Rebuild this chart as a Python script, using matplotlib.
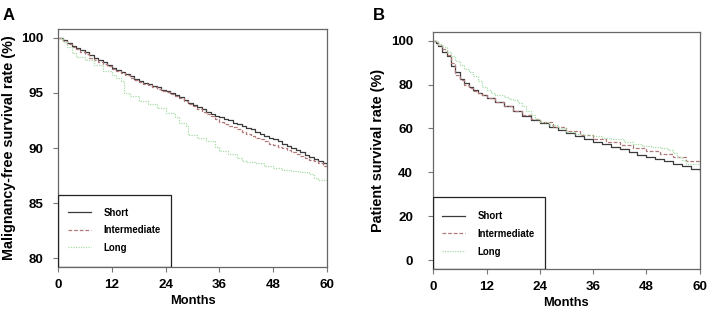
import matplotlib
matplotlib.use("Agg")
import matplotlib.pyplot as plt
from matplotlib.patches import Rectangle

plt.rcParams['font.family'] = ['Liberation Sans', 'DejaVu Sans']
plt.rcParams['font.weight'] = 'bold'

groups = ['Short', 'Intermediate', 'Long']

# panel A: malignancy-free survival (%), monthly reading of the step curves
a_months = list(range(0, 61))
a_short_s = [100, 99.8, 99.5, 99.3, 99.1, 98.9, 98.7, 98.4, 98.2, 98.0, 97.8, 97.5, 97.3,
             97.1, 96.9, 96.7, 96.5, 96.3, 96.1, 95.9, 95.8, 95.6, 95.5, 95.3, 95.2,
             95.0, 94.8, 94.6, 94.4, 94.1, 93.9, 93.7, 93.5, 93.3, 93.1, 92.9, 92.8,
             92.6, 92.5, 92.3, 92.2, 92.0, 91.8, 91.7, 91.5, 91.3, 91.1, 90.9, 90.8,
             90.6, 90.4, 90.2, 90.0, 89.8, 89.6, 89.4, 89.2, 89.0, 88.8, 88.6, 88.4]
a_inter_s = [100, 99.7, 99.4, 99.2, 99.0, 98.7, 98.5, 98.2, 98.0, 97.8, 97.6, 97.4, 97.2,
             97.0, 96.8, 96.6, 96.4, 96.2, 96.0, 95.8, 95.7, 95.5, 95.4, 95.2, 95.1,
             94.9, 94.7, 94.5, 94.3, 94.0, 93.8, 93.5, 93.3, 93.1, 92.9, 92.6, 92.4,
             92.2, 92.0, 91.9, 91.7, 91.5, 91.3, 91.1, 90.9, 90.8, 90.6, 90.4, 90.3,
             90.1, 90.0, 89.8, 89.6, 89.5, 89.3, 89.1, 88.9, 88.8, 88.6, 88.4, 88.2]
a_long_t = [0, 1, 2, 3, 4, 6, 8, 10, 12, 13, 14, 14.8, 16, 18, 20, 22, 24, 26, 27, 28.5,
            29, 31, 33, 35, 36, 38, 40, 41, 42, 44, 46, 48, 50, 52, 54, 56, 57, 58, 60]
a_long_s = [100, 99.6, 99.2, 98.6, 98.3, 98.0, 97.5, 97.0, 96.6, 96.4, 96.1, 95.0, 94.7,
            94.3, 94.0, 93.6, 93.2, 92.8, 92.3, 92.0, 91.2, 90.9, 90.6, 90.1, 89.7, 89.5,
            89.1, 88.8, 88.7, 88.6, 88.4, 88.2, 88.0, 87.9, 87.8, 87.6, 87.3, 87.1, 87.0]

# panel B: patient survival (%)
b_short_t = [0, 0.5, 1, 2, 3, 4, 5, 6, 7, 8, 9, 10, 11, 12, 14, 16, 18, 20, 22, 24, 26,
             28, 30, 32, 34, 36, 38, 40, 42, 44, 46, 48, 50, 52, 54, 56, 58, 60]
b_short_s = [100, 99, 97.5, 95, 93, 88.5, 85.5, 82.5, 80.5, 79, 77.5, 76, 75, 74, 72, 70,
             67.8, 65.8, 64, 62.3, 60.8, 59.3, 58, 56.7, 55.3, 54, 52.8, 51.6, 50.5, 49.3,
             48.1, 47, 46, 45, 43.8, 42.8, 41.6, 40.5]
b_inter_t = [0, 1, 2, 3, 4, 5, 6, 7, 8, 9, 10, 11, 12, 14, 16, 18, 20, 22, 24, 27, 30,
             33, 36, 39, 42, 45, 48, 51, 54, 57, 60]
b_inter_s = [100, 98, 96, 93.5, 90, 84.5, 82, 80, 78.5, 77, 76, 75, 74, 72, 70, 68, 66,
             64.5, 63, 60.8, 58.7, 57, 55.3, 53.8, 52.5, 51, 49.5, 48.2, 46.8, 45.2, 44]
b_long_t = [0, 1, 2, 3, 4, 5, 6, 7, 8, 9, 10, 11, 12, 13, 14, 16, 17, 18, 19, 20, 21, 22,
            23, 24, 26, 28, 30, 32, 34, 36, 38, 40, 43, 45, 47, 49, 51, 53, 54, 55, 56,
            57, 60]
b_long_s = [100, 98.5, 97, 95, 93, 90.5, 89, 87, 85.5, 84, 81.5, 79, 77.5, 76, 75, 74.5,
            73.5, 73, 71.5, 70, 68, 66, 64.5, 63, 61.5, 60, 58.5, 57.5, 57, 56.5, 55.5,
            55, 54, 53, 52, 51.5, 51, 50, 49, 47, 45.5, 44, 44]

x_ticks = [0, 12, 24, 36, 48, 60]
a_yticks = [80, 85, 90, 95, 100]
b_yticks = [0, 20, 40, 60, 80, 100]

colors = ['#3a3a3a', '#b07878', '#a8dca8']
styles = ['-', (0, (3, 1.5)), (0, (1, 1))]

fig = plt.figure(figsize=[7.08, 3.12], dpi=100)
ax1 = fig.add_axes([0.082, 0.144, 0.380, 0.763])
ax2 = fig.add_axes([0.612, 0.138, 0.376, 0.760])


def km_panel(ax, curves, ylim, yticks, ylabel, box_top, leg_xy, ypad):
    for (t, s), c, ls, name in zip(curves, colors, styles, groups):
        ax.plot(t, s, drawstyle='steps-post', color=c, linestyle=ls, linewidth=0.9,
                label=name)
    ax.set_xlim(0, 60)
    ax.set_ylim(*ylim)
    ax.set_xticks(x_ticks)
    ax.set_yticks(yticks)
    ax.tick_params(direction='out', length=3.6, width=0.8, color='#777777',
                   labelsize=9.6)
    ax.tick_params(axis='x', pad=5)
    ax.tick_params(axis='y', pad=ypad)
    for lab in ax.get_xticklabels() + ax.get_yticklabels():
        lab.set_fontweight('bold')
    for sp in ax.spines.values():
        sp.set_color('#666666')
        sp.set_linewidth(0.9)
    ax.set_xlabel('Months', fontsize=9.3, fontweight='bold', labelpad=3)
    ax.set_ylabel(ylabel, fontsize=10.4, fontweight='bold', labelpad=4)
    # legend box
    ax.add_patch(Rectangle((0, ylim[0]), 25.2, box_top - ylim[0], fill=False,
                           edgecolor='#222222', linewidth=0.9, zorder=3))
    ax.legend(loc='center left', bbox_to_anchor=leg_xy, frameon=False, borderpad=0,
              borderaxespad=0, prop={'size': 6.9, 'weight': 'bold'}, handlelength=2.4,
              handletextpad=1.3, labelspacing=0.8)


km_panel(ax1, [(a_months, a_short_s), (a_months, a_inter_s), (a_long_t, a_long_s)],
         (79.2, 100.8), a_yticks, 'Malignancy-free survival rate (%)', 85.75,
         (0.037, 0.155), 7)
km_panel(ax2, [(b_short_t, b_short_s), (b_inter_t, b_inter_s), (b_long_t, b_long_s)],
         (-4, 104), b_yticks, 'Patient survival rate (%)', 28.8, (0.033, 0.148), 11)

fig.text(0.004, 0.975, 'A', fontsize=12, fontweight='bold', va='top')
fig.text(0.527, 0.975, 'B', fontsize=12, fontweight='bold', va='top')

plt.savefig('out.png', dpi=100)
